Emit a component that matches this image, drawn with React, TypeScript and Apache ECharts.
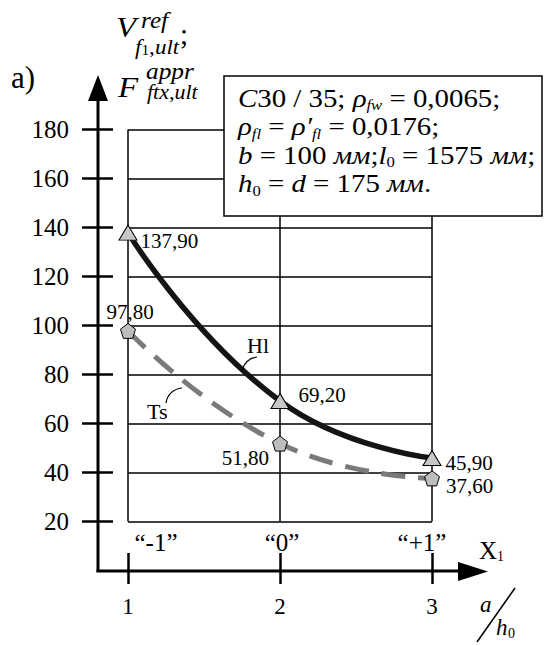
import React, { useEffect, useRef } from 'react';
import * as echarts from 'echarts';

const xValues = [1, 2, 3];
const xCodeLabels = ['“-1”', '“0”', '“+1”'];
const yMin = 20;
const yMax = 180;
const yStep = 20;
const h1Name = 'Hl';
const tsName = 'Ts';
const h1Values = [137.9, 69.2, 45.9];
const tsValues = [97.8, 51.8, 37.6];

const SERIF = 'Liberation Serif, Times New Roman, serif';

const fmt = (v: number) => v.toFixed(2).replace('.', ',');

const h1LabelPos: any[] = [
  { position: 'right', distance: 3, offset: [0, 8] },
  { position: 'right', distance: 9, offset: [0, -6] },
  { position: 'right', distance: 4, offset: [0, 5] },
];
const tsLabelPos: any[] = [
  { position: 'top', distance: 2, offset: [2, 0] },
  { position: 'left', distance: 3, offset: [0, 14] },
  { position: 'right', distance: 6, offset: [0, 8] },
];

const pentagon = 'path://M0,-10 L9.51,-3.09 L5.88,8.09 L-5.88,8.09 L-9.51,-3.09 Z';

function txt(text: string, x: number, y: number, size: number, opts: any = {}) {
  return {
    type: 'text',
    x,
    y,
    z: 110,
    scaleX: opts.scaleX ?? 1,
    style: {
      text,
      fontFamily: SERIF,
      fontSize: size,
      fontStyle: opts.italic ? 'italic' : 'normal',
      fill: '#000',
      align: opts.align ?? 'left',
      textAlign: opts.align ?? 'left',
      verticalAlign: 'middle',
      textVerticalAlign: 'middle',
      rich: opts.rich,
    },
  };
}

const boxRich = {
  n: { fontFamily: SERIF, fontSize: 26, lineHeight: 28.5, fontStyle: 'normal', color: '#000' },
  i: { fontFamily: SERIF, fontSize: 26, lineHeight: 28.5, fontStyle: 'italic', color: '#000' },
  s: { fontFamily: SERIF, fontSize: 15, lineHeight: 9, fontStyle: 'italic', color: '#000', verticalAlign: 'bottom' },
  z: { fontFamily: SERIF, fontSize: 15, lineHeight: 9, fontStyle: 'normal', color: '#000', verticalAlign: 'bottom' },
};

const boxText = [
  '{i|C}{n|30 / 35; }{i|ρ}{s|fw}{n| = 0,0065;}',
  '{i|ρ}{s|fl}{n| = }{i|ρ′}{s|fl}{n| = 0,0176;}',
  '{i|b}{n| = 100 }{i|мм}{n|;}{i|l}{z|0}{n| = 1575 }{i|мм}{n|;}',
  '{i|h}{z|0}{n| = }{i|d}{n| = 175 }{i|мм}{n|.}',
].join('\n');

export default function App() {
  const ref = useRef<HTMLDivElement>(null);
  useEffect(() => {
    const chart = echarts.init(ref.current!, undefined, { renderer: 'svg' });
    const option: any = {
      animation: false,
      backgroundColor: '#fff',
      textStyle: { fontFamily: SERIF, color: '#000' },
      grid: { left: 128, right: 113, top: 129.5, bottom: 124.5, containLabel: false },
      xAxis: [
        {
          type: 'value',
          min: 1,
          max: 3,
          interval: 1,
          position: 'bottom',
          axisLine: { show: false },
          axisTick: { show: false },
          splitLine: { show: true, lineStyle: { color: '#000', width: 1.5 } },
          axisLabel: {
            margin: 8,
            formatter: (v: number) => {
              const i = xValues.indexOf(v);
              const key = i === 0 ? 'a' : i === 2 ? 'c' : 'b';
              return `{${key}|${xCodeLabels[i]}}`;
            },
            rich: {
              a: { fontFamily: SERIF, fontSize: 25, color: '#000', padding: [0, 0, 0, 56] },
              b: { fontFamily: SERIF, fontSize: 25, color: '#000', padding: [0, 0, 0, 4] },
              c: { fontFamily: SERIF, fontSize: 25, color: '#000', padding: [0, 20, 0, 0] },
            },
          },
        },
        {
          type: 'value',
          min: 1,
          max: 3,
          interval: 1,
          position: 'bottom',
          offset: 62.5,
          axisLine: { show: false },
          axisTick: { show: true, inside: true, length: 31, lineStyle: { color: '#000', width: 2.5 } },
          splitLine: { show: false },
          axisLabel: { margin: 11, fontSize: 23, color: '#000', fontFamily: SERIF },
        },
      ],
      yAxis: {
        type: 'value',
        min: yMin,
        max: yMax,
        interval: yStep,
        offset: 15,
        axisLine: { show: false },
        axisTick: { show: true, length: 31, lineStyle: { color: '#000', width: 2.5 } },
        splitLine: { show: true, lineStyle: { color: '#000', width: 1.5 } },
        axisLabel: { margin: 44, fontSize: 25, color: '#000', fontFamily: SERIF },
      },
      series: [
        {
          name: h1Name,
          type: 'line',
          xAxisIndex: 0,
          smooth: 0.5,
          z: 3,
          symbol: 'triangle',
          symbolSize: [18, 15],
          lineStyle: { color: '#141414', width: 5.5 },
          itemStyle: { color: '#c8c8c8', borderColor: '#000', borderWidth: 1 },
          label: {
            show: true,
            fontSize: 21,
            lineHeight: 18,
            fontFamily: SERIF,
            color: '#000',
            formatter: (p: any) => fmt(p.value[1]),
          },
          data: xValues.map((x, i) => ({ value: [x, h1Values[i]], label: h1LabelPos[i] })),
        },
        {
          name: tsName,
          type: 'line',
          xAxisIndex: 0,
          smooth: 0.5,
          z: 2,
          symbol: pentagon,
          symbolSize: 15,
          lineStyle: { color: '#7a7a7a', width: 5, type: [24, 13] },
          itemStyle: { color: '#bdbdbd', borderColor: '#000', borderWidth: 1 },
          label: {
            show: true,
            fontSize: 21,
            lineHeight: 18,
            fontFamily: SERIF,
            color: '#000',
            formatter: (p: any) => fmt(p.value[1]),
          },
          data: xValues.map((x, i) => ({ value: [x, tsValues[i]], label: tsLabelPos[i] })),
        },
      ],
      graphic: [
        // info box
        {
          type: 'rect',
          z: 100,
          shape: { x: 224, y: 76, width: 318, height: 140 },
          style: { fill: '#fff', stroke: '#000', lineWidth: 1.5 },
        },
        {
          type: 'text',
          z: 110,
          x: 238,
          y: 84,
          scaleX: 1.11,
          style: {
            text: boxText,
            fontFamily: SERIF,
            fontSize: 26,
            lineHeight: 28.5,
            fill: '#000',
            align: 'left',
            textAlign: 'left',
            verticalAlign: 'top',
            textVerticalAlign: 'top',
            rich: boxRich,
          },
        },
        // y axis arrow
        { type: 'line', z: 100, shape: { x1: 98, y1: 572, x2: 98, y2: 96 }, style: { stroke: '#000', lineWidth: 3 } },
        { type: 'polygon', z: 100, shape: { points: [[88, 101], [108, 101], [98, 75]] }, style: { fill: '#000' } },
        // x axis arrow
        { type: 'line', z: 100, shape: { x1: 96.5, y1: 571, x2: 462, y2: 571 }, style: { stroke: '#000', lineWidth: 3 } },
        { type: 'polygon', z: 100, shape: { points: [[458, 562], [458, 581], [488, 571.5]] }, style: { fill: '#000' } },
        // panel label
        txt('a)', 11, 77, 31),
        // y axis title
        txt('V', 116, 27, 30, { italic: true, scaleX: 1.1 }),
        txt('ref', 141, 20, 23, { italic: true, scaleX: 1.1 }),
        txt('{s|f}{t|1}{s|,ult}', 135, 47, 21, {
          scaleX: 1.1,
          rich: {
            s: { fontFamily: SERIF, fontSize: 21, fontStyle: 'italic', color: '#000' },
            t: { fontFamily: SERIF, fontSize: 14, color: '#000', verticalAlign: 'bottom', lineHeight: 9 },
          },
        }),
        txt(';', 180, 34, 29),
        txt('F', 118, 87, 30, { italic: true, scaleX: 1.1 }),
        txt('appr', 146, 71, 23, { italic: true, scaleX: 1.1 }),
        txt('ftx,ult', 147, 92, 20, { italic: true, scaleX: 1.1 }),
        // x axis title
        txt('X', 479, 550, 25),
        txt('1', 497, 556, 14),
        txt('a', 480, 604, 23, { italic: true }),
        { type: 'line', z: 100, shape: { x1: 477, y1: 642, x2: 515, y2: 588 }, style: { stroke: '#000', lineWidth: 1.5 } },
        txt('h', 496, 627, 23, { italic: true }),
        txt('0', 508, 633, 14),
        // curve names with leaders
        txt(h1Name, 247, 345, 22),
        {
          type: 'bezierCurve',
          z: 100,
          shape: { x1: 257, y1: 357, cpx1: 249, cpy1: 358, cpx2: 244, cpy2: 363, x2: 242, y2: 371 },
          style: { stroke: '#000', lineWidth: 1.2, fill: 'none' },
        },
        txt(tsName, 147, 411, 22),
        {
          type: 'bezierCurve',
          z: 100,
          shape: { x1: 166, y1: 403, cpx1: 167, cpy1: 395, cpx2: 173, cpy2: 389, x2: 182, y2: 388 },
          style: { stroke: '#000', lineWidth: 1.2, fill: 'none' },
        },
      ],
    };
    chart.setOption(option);
    return () => chart.dispose();
  }, []);
  return (
    <div
      ref={ref}
      style={{ position: 'fixed', left: 0, top: 0, width: 545, height: 646, background: '#fff' }}
    />
  );
}
